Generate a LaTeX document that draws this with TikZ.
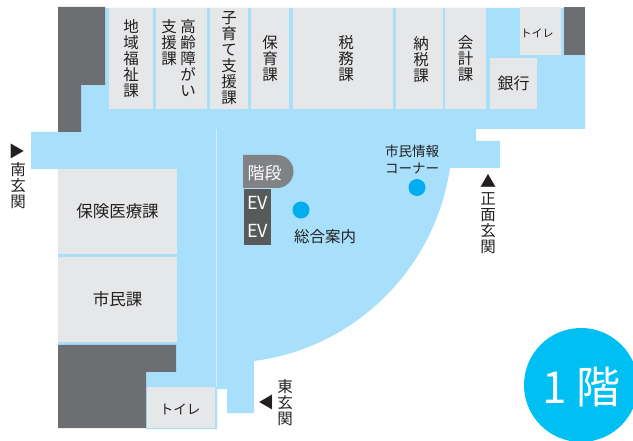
\documentclass[tikz,border=0pt]{standalone}
\usepackage{fontspec}
\setmainfont{Noto Sans CJK JP}
\usetikzlibrary{positioning}
\definecolor{floorblue}{HTML}{A8E0FB}
\definecolor{roomgrey}{HTML}{E6E7E8}
\definecolor{wallgrey}{HTML}{6D6E71}
\definecolor{stairgrey}{HTML}{808285}
\definecolor{evgrey}{HTML}{58595B}
\definecolor{dotblue}{HTML}{00AEEF}
\definecolor{badgeblue}{HTML}{00C0F3}
\definecolor{inkgrey}{HTML}{231F20}
\tikzset{roombox/.style={rectangle, fill=roomgrey, text=inkgrey, inner sep=0pt, align=center, font=\fontsize{15.5}{16}\selectfont}}
\tikzset{evbox/.style={rectangle, fill=evgrey, text=white, inner sep=0pt, minimum width=27pt, minimum height=28pt, font=\fontsize{18}{20}\selectfont}}
\tikzset{maplabel/.style={inner sep=0pt, text=inkgrey, align=center, font=\fontsize{15.5}{16}\selectfont}}
\tikzset{spotdot/.style={circle, fill=dotblue, inner sep=0pt, minimum size=17pt}}
\begin{document}
\begin{tikzpicture}[x=1pt,y=-1pt]
    \useasboundingbox (0,0) rectangle (633,441);
    \clip (0,0) rectangle (633,441);

    % floor
    \fill[floorblue] (31,132) -- (81,132) -- (81,85) -- (105,85) -- (105,8) -- (585,8) -- (585,129) -- (476,129) -- (476,141) -- (500,141) -- (500,168) -- (450,168)
        .. controls (435,269) and (355,348) .. (254,361)
        -- (254,413) -- (227,413) -- (227,389) -- (217,389) -- (217,429) -- (146,429) -- (146,372) -- (176,372) -- (176,345) -- (58,345) -- (58,169) -- (31,169) -- cycle;
    \draw[white!50!floorblue, line width=.5pt] (216.5,129) -- (216.5,387);

    % walls
    \fill[wallgrey] (58,7) -- (105,7) -- (105,85) -- (81,85) -- (81,132) -- (58,132) -- cycle;
    \fill[wallgrey] (564,7) rectangle (585,55);
    \fill[wallgrey] (58,345) -- (176,345) -- (176,372) -- (146,372) -- (146,428) -- (58,428) -- cycle;

    % rooms along the top
    \node [roombox, minimum width=44pt, minimum height=101pt](chiiki) at (131,58.5){地\\域\\福\\祉\\課};
    \node [roombox, minimum width=51pt, minimum height=101pt](kourei) at (181.5,58.5){};
    \node [maplabel, anchor=north](koureiA) at (188,19){高\\齢\\障\\が\\い};
    \node [maplabel, anchor=north](koureiB) at (169,19){支\\援\\課};
    \node [roombox, minimum width=38pt, minimum height=101pt](kosodate) at (229,58.5){子\\育\\て\\支\\援\\課};
    \node [roombox, minimum width=38pt, minimum height=101pt](hoiku) at (270,58.5){保\\育\\課};
    \node [roombox, minimum width=100pt, minimum height=101pt](zeimu) at (343,58.5){};
    \node [maplabel](zeimuT) at (346,58.5){税\\務\\課};
    \node [roombox, minimum width=47pt, minimum height=101pt](nouzei) at (419.5,58.5){};
    \node [maplabel](nouzeiT) at (421,60){納\\税\\課};
    \node [roombox, minimum width=41pt, minimum height=101pt](kaikei) at (465.5,58.5){会\\計\\課};
    \node [roombox, minimum width=47pt, minimum height=51pt, font=\fontsize{16}{18}\selectfont](ginkou) at (513.5,83.5){銀行};
    \node [roombox, minimum width=41pt, minimum height=48pt](toiletN) at (540.5,31){};
    \node [maplabel, font=\fontsize{11}{12}\selectfont](toiletNT) at (537,33){トイレ};

    % rooms on the left
    \node [roombox, minimum width=119pt, minimum height=85pt, font=\fontsize{16.5}{18}\selectfont](hoken) at (117.5,211.5){保険医療課};
    \node [roombox, minimum width=119pt, minimum height=85pt, font=\fontsize{16.5}{18}\selectfont](shimin) at (117.5,299.5){市民課};
    \node [roombox, minimum width=68pt, minimum height=41pt, font=\fontsize{13.5}{14}\selectfont](toiletS) at (181,407.5){};
    \node [maplabel, font=\fontsize{13.5}{14}\selectfont](toiletST) at (180,409){トイレ};

    % stairs and lifts
    \fill[stairgrey] (243,155) -- (277,155) arc[start angle=90, end angle=-90, radius=16.5pt] -- (243,188) -- cycle;
    \node [text=white, inner sep=0pt, font=\fontsize{17}{18}\selectfont](kaidan) at (264.5,173){階段};
    \node [evbox](ev1) at (257.5,203){EV};
    \node [evbox](ev2) at (257.5,231){EV};

    % information spots
    \node [spotdot](annai) at (301,210){};
    \node [maplabel, font=\fontsize{15.5}{18}\selectfont](annaiT) at (325,237){総合案内};
    \node [spotdot](corner) at (417,187.5){};
    \node [maplabel, font=\fontsize{13.5}{17}\selectfont, align=left](cornerT) at (412,160){市民情報\\コーナー};

    % entrances
    \node [maplabel, font=\fontsize{16}{16}\selectfont](southA) at (17,151){▶};
    \node [maplabel, anchor=north](southT) at (18,162){南\\玄\\関};
    \node [maplabel, font=\fontsize{16}{16}\selectfont](frontA) at (488,181){▲};
    \node [maplabel, anchor=north](frontT) at (488,192){正\\面\\玄\\関};
    \node [maplabel, font=\fontsize{16}{16}\selectfont](eastA) at (266,402){◀};
    \node [maplabel](eastT) at (285,403){東\\玄\\関};

    % floor badge
    \node [circle, fill=badgeblue, inner sep=0pt, minimum size=114pt](badge) at (581,385){};
    \node [text=white, inner sep=0pt, font=\fontsize{44}{48}\selectfont](badgeT) at (581.5,387){1 階};
\end{tikzpicture}
\end{document}
